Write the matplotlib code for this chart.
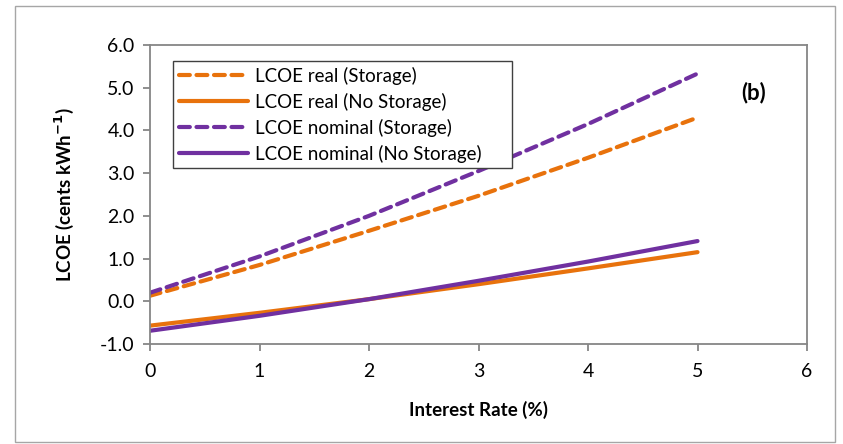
import matplotlib
matplotlib.use("Agg")
import matplotlib.pyplot as plt
from matplotlib.patches import Rectangle

plt.rcParams['font.family'] = ['Lato', 'DejaVu Sans']

interest_rate = [0, 1, 2, 3, 4, 5]
lcoe_real_storage = [0.13, 0.85, 1.65, 2.47, 3.36, 4.30]
lcoe_real_nostorage = [-0.57, -0.27, 0.05, 0.40, 0.77, 1.15]
lcoe_nominal_storage = [0.20, 1.05, 2.00, 3.05, 4.15, 5.33]
lcoe_nominal_nostorage = [-0.69, -0.34, 0.05, 0.48, 0.93, 1.41]

orange = '#E8720C'
purple = '#7030A0'
gray = '#868686'

fig = plt.figure(figsize=(8.43, 4.44), dpi=100)
fig.patches.append(Rectangle((0.018, 0.005), 0.972, 0.982, transform=fig.transFigure,
                             fill=False, edgecolor='#A6A6A6', linewidth=1.0))

ax = fig.add_axes([150/843, 100/444, 657/843, 299/444])

lw = 3.0
dash = (0, (2.6, 1.6))
ax.plot(interest_rate, lcoe_real_storage, color=orange, lw=lw, linestyle=dash,
        dash_capstyle='round', label='LCOE real (Storage)')
ax.plot(interest_rate, lcoe_real_nostorage, color=orange, lw=lw,
        solid_capstyle='round', label='LCOE real (No Storage)')
ax.plot(interest_rate, lcoe_nominal_storage, color=purple, lw=lw, linestyle=dash,
        dash_capstyle='round', label='LCOE nominal (Storage)')
ax.plot(interest_rate, lcoe_nominal_nostorage, color=purple, lw=lw,
        solid_capstyle='round', label='LCOE nominal (No Storage)')

ax.set_xlim(0, 6)
ax.set_ylim(-1, 6)
ax.set_xticks(range(0, 7))
ax.set_yticks(range(-1, 7))
ax.set_yticklabels([f'{v:.1f}' for v in range(-1, 7)])
for s in ax.spines.values():
    s.set_color(gray)
    s.set_linewidth(1.3)
ax.tick_params(axis='both', direction='out', length=5, width=1.3, color=gray,
               labelsize=14, labelcolor='black')
ax.tick_params(axis='x', pad=9)
ax.tick_params(axis='y', pad=6)

ax.set_xlabel('Interest Rate (%)', fontsize=13.5, fontweight='bold', labelpad=15)
ax.set_ylabel('LCOE (cents kWh$^{\\mathbf{-1}}$)', fontsize=13.5, fontweight='bold', labelpad=17)

ax.text(5.51, 4.88, '(b)', fontsize=16, fontweight='bold', ha='center', va='center')

leg = ax.legend(loc='upper left', bbox_to_anchor=(0.035, 0.591, 0.516, 0.355),
                mode='expand', fontsize=13.5, frameon=True, fancybox=False,
                framealpha=1.0, handlelength=3.7, handletextpad=0.4,
                borderpad=0.3, labelspacing=0.42, borderaxespad=0)
leg.get_frame().set_edgecolor('#404040')
leg.get_frame().set_linewidth(1.0)

fig.savefig('out.png', dpi=100)
